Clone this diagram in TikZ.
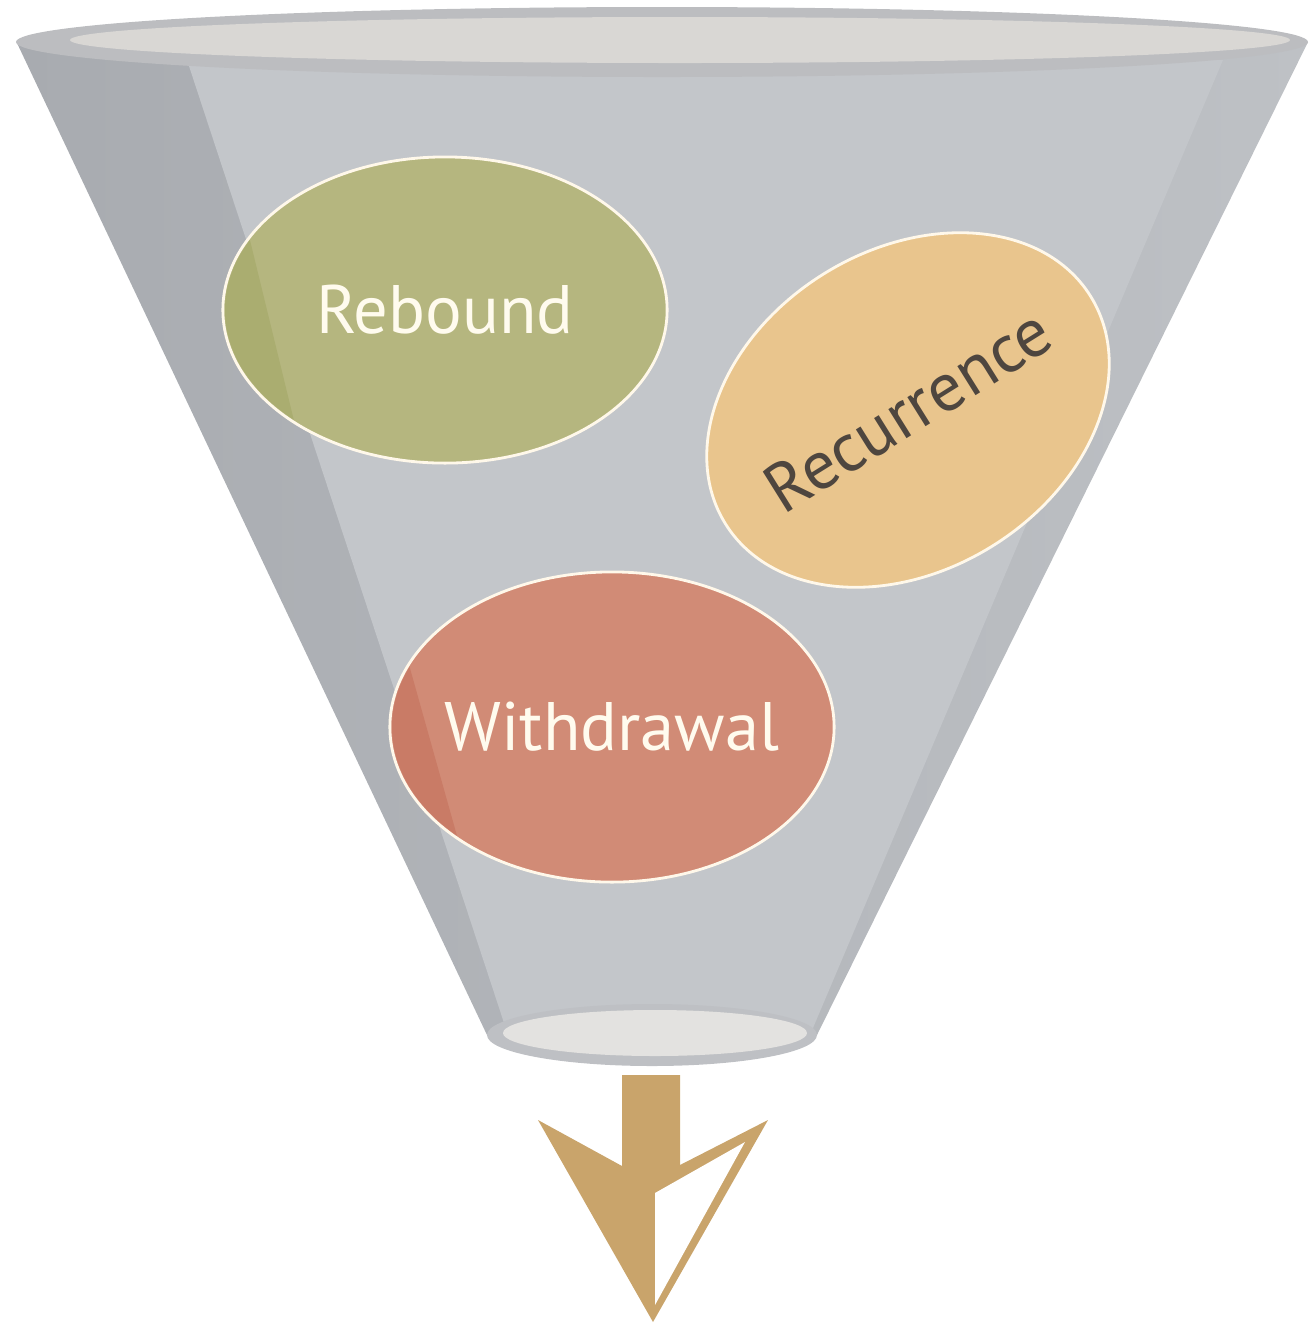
\documentclass[tikz,border=0pt]{standalone}
\usepackage{fontspec}
\setmainfont{PT Sans}
\usetikzlibrary{shapes.geometric}

\definecolor{funneldark}{HTML}{A8ABB0}
\definecolor{funnelright}{HTML}{BEC1C5}
\definecolor{panelside}{HTML}{C3C6CA}
\definecolor{panelmid}{HTML}{CED1D4}
\definecolor{rimdark}{HTML}{BCBDC0}
\definecolor{rimlight}{HTML}{D9D7D4}
\definecolor{ringgray}{HTML}{BEC0C4}
\definecolor{openlight}{HTML}{E3E2E0}
\definecolor{olive}{HTML}{B5B67F}
\definecolor{oliveshade}{HTML}{AAAD70}
\definecolor{sand}{HTML}{E9C58D}
\definecolor{terracotta}{HTML}{D18B76}
\definecolor{terrashade}{HTML}{C97B66}
\definecolor{arrowtan}{HTML}{C9A46B}
\definecolor{darktext}{HTML}{4E463F}
\definecolor{bubbleline}{HTML}{FFF8EA}
\definecolor{bubbletext}{HTML}{FFFBEE}

\tikzset{
  bubble/.style={ellipse, draw=bubbleline, line width=0.8pt, inner sep=0pt, inner xsep=-1cm,
    font=\fontsize{19.5}{19.5}\selectfont}
}

\begin{document}
\begin{tikzpicture}[x=0.01cm, y=-0.01cm]
\useasboundingbox (0,0) rectangle (1311,1323);

\shade[left color=funneldark, right color=funnelright] (17,43) -- (487,1035) -- (817,1035) -- (1308,42) -- cycle;
\shade[left color=panelside, middle color=panelmid, right color=panelside] (187,60) -- (508,1035) -- (810,1035) -- (1223,60) -- cycle;
\fill[rimdark] (662,42) ellipse [x radius=646, y radius=35];
\fill[rimlight] (680,40) ellipse [x radius=610, y radius=23];
\fill[ringgray] (652,1035) ellipse [x radius=165, y radius=31];
\fill[openlight] (655,1033) ellipse [x radius=152, y radius=23];

\node[bubble, fill=olive, text=bubbletext, minimum width=4.44cm, minimum height=3.06cm] (rebound) at (445,310) {Rebound};
\begin{scope}
\clip (445,310) ellipse [x radius=220, y radius=151];
\fill[oliveshade] (200,150) -- (228,150) -- (306,470) -- (200,470) -- cycle;
\end{scope}

\node[bubble, fill=sand, text=darktext, rotate=32, minimum width=4.3cm, minimum height=3.2cm] (recurrence) at (908,410) {Recurrence};

\node[bubble, fill=terracotta, text=bubbletext, minimum width=4.44cm, minimum height=3.1cm] (withdrawal) at (612,727) {Withdrawal};
\begin{scope}
\clip (612,727) ellipse [x radius=220, y radius=153];
\fill[terrashade] (370,540) -- (374,540) -- (475,900) -- (370,900) -- cycle;
\end{scope}

\fill[arrowtan] (538,1120) -- (622,1166) -- (622,1075) -- (680,1075) -- (680,1165) -- (768,1120) -- (653,1322) -- cycle;
\fill[white] (745,1142) -- (655,1193) -- (655,1305) -- cycle;

\end{tikzpicture}
\end{document}
